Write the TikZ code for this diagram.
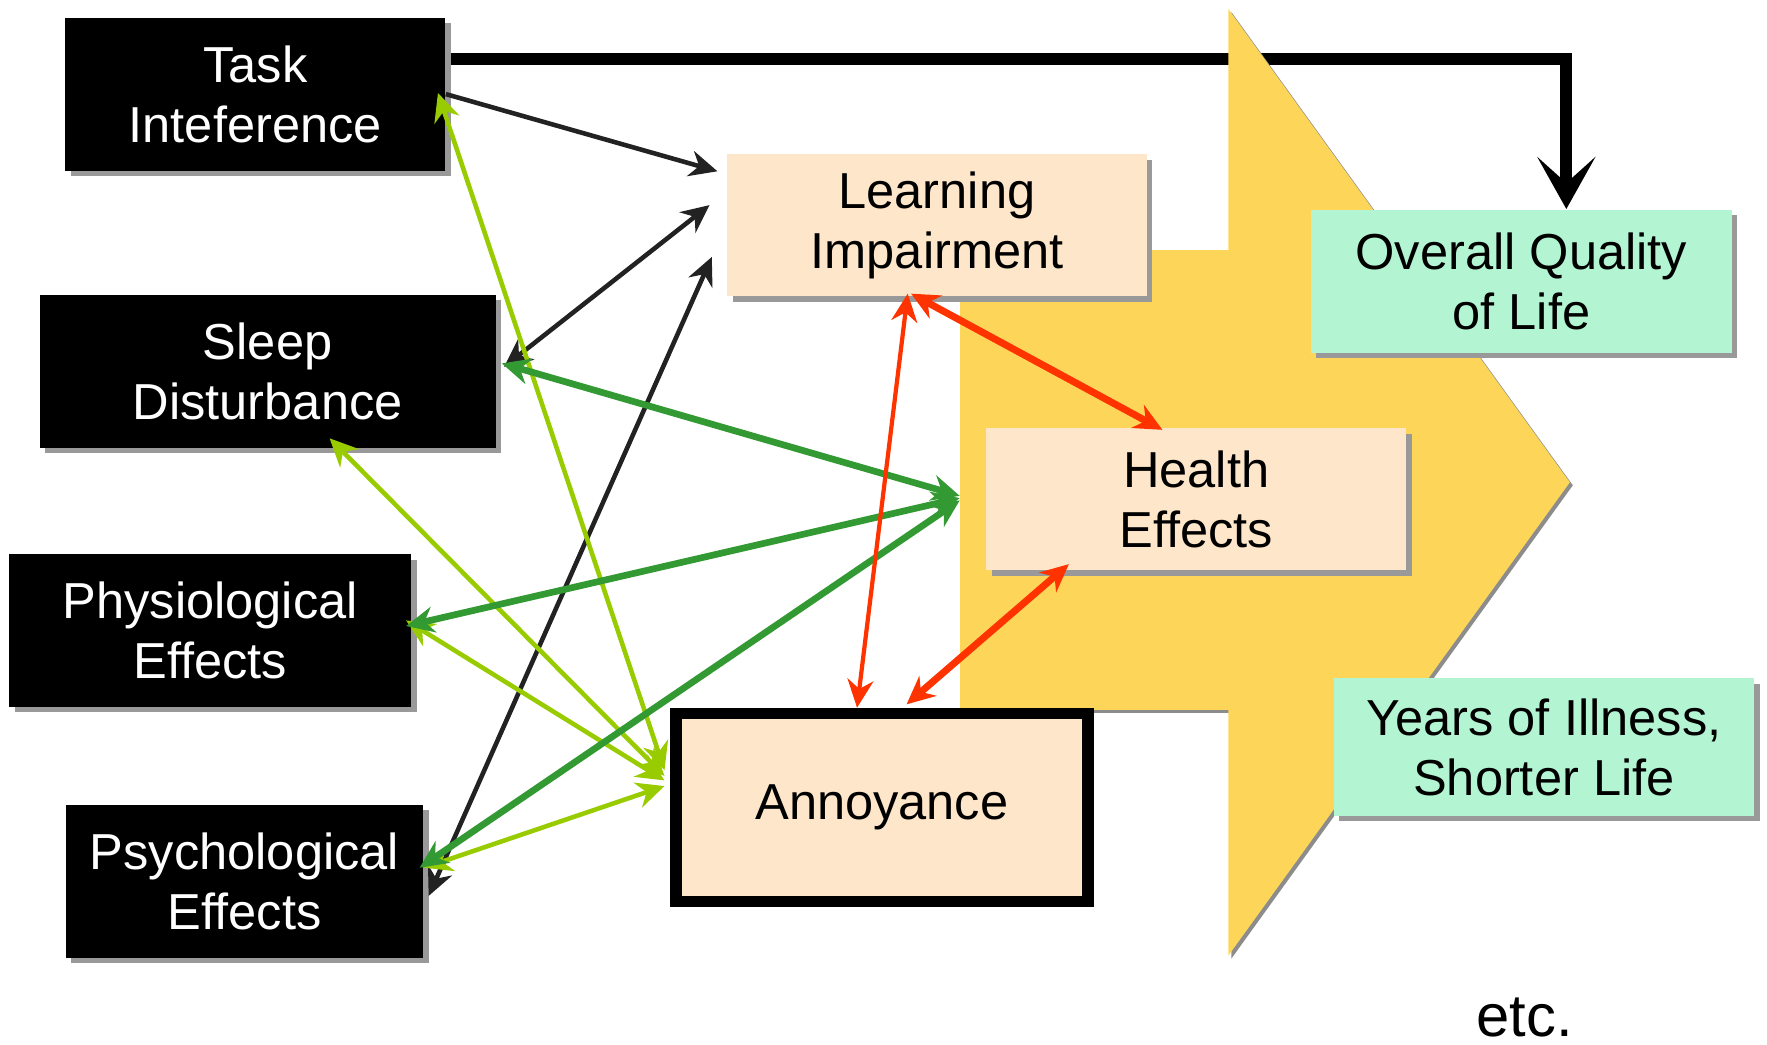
\documentclass[tikz,border=0pt]{standalone}
\usepackage{fontspec}
\setmainfont{Liberation Sans}
\usetikzlibrary{arrows.meta, positioning, shadows, calc, backgrounds}

\definecolor{peach}{RGB}{253,230,201}
\definecolor{mint}{RGB}{179,245,211}
\definecolor{gold}{RGB}{253,214,89}
\definecolor{redline}{RGB}{255,51,0}
\definecolor{limeline}{RGB}{153,204,0}
\definecolor{greenline}{RGB}{51,153,51}
\definecolor{darkline}{RGB}{34,34,34}

\begin{document}
\begin{tikzpicture}[
	x=0.01127cm, y=-0.01127cm,
	box/.style={rectangle, inner sep=0pt, align=center, font=\fontsize{14.4}{17}\selectfont,
		drop shadow={shadow xshift=0.055cm, shadow yshift=-0.055cm, fill=black!40, opacity=1}},
	cause/.style={box, fill=black, text=white, minimum height=1.53cm},
	effect/.style={box, fill=peach, minimum width=4.2cm, minimum height=1.42cm},
	outcome/.style={box, fill=mint, minimum width=4.21cm},
	link/.style={<->, >={Stealth[length=2.8mm, width=2.6mm]}, line width=1.3pt},
	darklink/.style={link, draw=darkline},
	limelink/.style={link, draw=limeline},
	greenlink/.style={link, draw=greenline, line width=1.9pt},
	redlink/.style={link, draw=redline, line width=1.2pt},
	mainline/.style={line width=3.4pt, -{Stealth[length=5.2mm, width=5.8mm, inset=2.6mm]}}
]
	\useasboundingbox (0,0) rectangle (1568,927);

	% Big arrow behind the effects
	\fill[gold, drop shadow={shadow xshift=0.03cm, shadow yshift=-0.03cm, fill=black!45, opacity=1}]
		(852,222) -- (1090,222) -- (1090,8) -- (1393,428) -- (1090,848) -- (1090,630) -- (852,630) -- cycle;

	% Noise effects (left column)
	\node[cause, minimum width=3.8cm] (task) at (226.5,83.5) {Task\\Inteference};
	\node[cause, minimum width=4.56cm] (sleep) at (237.5,329.5) {Sleep\\Disturbance};
	\node[cause, minimum width=4.02cm] (physio) at (186.5,559.5) {Physiological\\Effects};
	\node[cause, minimum width=3.58cm] (psycho) at (217,782) {Psychological\\Effects};

	% Middle layer
	\node[effect] (learn) at (831.5,200) {Learning\\Impairment};
	\node[effect] (health) at (1061.5,443) {Health\\Effects};
	\node[effect, draw=black, line width=3.3pt, minimum width=4.12cm, minimum height=1.88cm] (annoy) at (782.5,716.5) {Annoyance};

	% Outcomes
	\node[outcome, minimum height=1.43cm] (overall) at (1350,249.5) {Overall Quality\\of Life};
	\node[outcome, minimum height=1.375cm] (years) at (1370,663) {Years of Illness,\\Shorter Life};
	\node[font=\fontsize{17}{20}\selectfont] (etc) at (1353,903) {etc.};

	% Top connector
	\begin{scope}[on background layer]
		\draw[mainline] ([yshift=0.355cm]task.east) -| ([xshift=0.45cm]overall.north);
	\end{scope}

	% Black links
	\draw[darklink, <-] ($(learn.west)+(-8,-48)$) -- (task.east);
	\draw[darklink] ($(sleep.east)+(7,-4)$) -- ($(learn.west)+(-15,-18)$);
	\draw[darklink] ($(psycho.east)+(4,13)$) -- ($(learn.west)+(-13,28)$);

	% Light green links to annoyance
	\draw[limelink] ($(task.east)+(-7,-1)$) -- ($(annoy.west)+(-5,-33)$);
	\draw[limelink] ($(sleep.south)+(55,-9)$) -- ($(annoy.west)+(-5,-28)$);
	\draw[limelink] ($(physio.east)+(-5,-9)$) -- ($(annoy.west)+(-5,-24)$);
	\draw[limelink] ($(psycho.east)+(0,-12)$) -- ($(annoy.west)+(-5,-19)$);

	% Dark green links to health
	\draw[greenlink] ($(sleep.east)+(5,-7)$) -- ($(health.west)+(-23,-3)$);
	\draw[greenlink] ($(physio.east)+(-5,-4)$) -- ($(health.west)+(-23,-1)$);
	\draw[greenlink] ($(psycho.east)+(-4,-12)$) -- ($(health.west)+(-23,1)$);

	% Red links
	\draw[redlink] ($(learn.south)+(-26,-3)$) -- ($(annoy.north)+(-22,0)$);
	\draw[redlink, line width=2pt] ($(learn.south)+(-23,-3)$) -- ($(health.north)+(-30,2)$);
	\draw[redlink, line width=2pt] ($(health.south)+(-113,-6)$) -- ($(annoy.north)+(22,-3)$);
\end{tikzpicture}
\end{document}
